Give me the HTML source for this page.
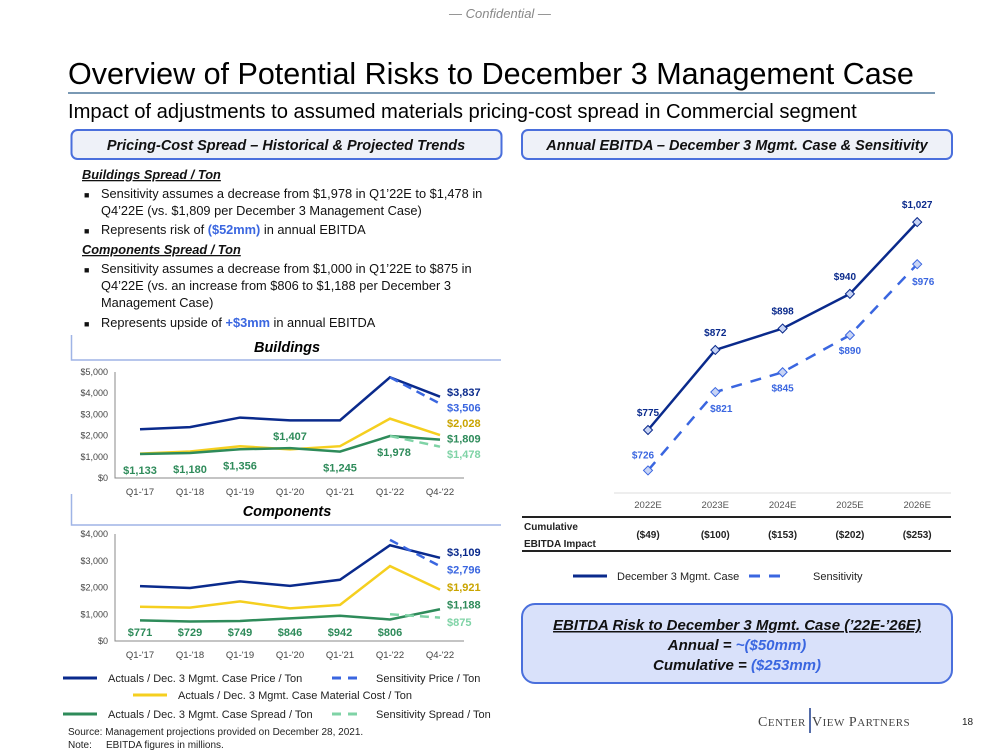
<!DOCTYPE html>
<html><head><meta charset="utf-8"><style>
html,body{margin:0;padding:0;background:#fff;}
svg{display:block;font-family:"Liberation Sans",sans-serif;}
</style></head><body>
<svg id="s" width="1000" height="750" viewBox="0 0 1000 750" xmlns="http://www.w3.org/2000/svg">
<text x="500" y="18" text-anchor="middle" font-size="13" font-style="italic" fill="#888">— Confidential —</text>
<text x="68" y="84" font-size="30.5" fill="#000">Overview of Potential Risks to December 3 Management Case</text>
<line x1="68" y1="93" x2="935" y2="93" stroke="#2a5c88" stroke-width="1.2"/>
<text x="68" y="118" font-size="20.2" fill="#000">Impact of adjustments to assumed materials pricing-cost spread in Commercial segment</text>

<rect x="71.5" y="130" width="430" height="29" rx="6" fill="#eef1f8" stroke="#4a6fdc" stroke-width="2"/>
<text x="286" y="150" text-anchor="middle" font-size="14.5" font-weight="bold" font-style="italic" fill="#111">Pricing-Cost Spread – Historical &amp; Projected Trends</text>
<rect x="522" y="130" width="430" height="29" rx="6" fill="#eef1f8" stroke="#4a6fdc" stroke-width="2"/>
<text x="737" y="150" text-anchor="middle" font-size="14.5" font-weight="bold" font-style="italic" fill="#111">Annual EBITDA – December 3 Mgmt. Case &amp; Sensitivity</text>

<g font-size="12.8" fill="#111">
<text x="82" y="179" font-weight="bold" font-style="italic" text-decoration="underline">Buildings Spread / Ton</text>
<text x="84" y="198" font-size="9">■</text><text x="101" y="198">Sensitivity assumes a decrease from $1,978 in Q1’22E to $1,478 in</text>
<text x="101" y="215">Q4’22E (vs. $1,809 per December 3 Management Case)</text>
<text x="84" y="234" font-size="9">■</text><text x="101" y="234">Represents risk of <tspan fill="#3a66e0" font-weight="bold">($52mm)</tspan> in annual EBITDA</text>
<text x="82" y="254" font-weight="bold" font-style="italic" text-decoration="underline">Components Spread / Ton</text>
<text x="84" y="273" font-size="9">■</text><text x="101" y="273">Sensitivity assumes a decrease from $1,000 in Q1’22E to $875 in</text>
<text x="101" y="290">Q4’22E (vs. an increase from $806 to $1,188 per December 3</text>
<text x="101" y="307">Management Case)</text>
<text x="84" y="327" font-size="9">■</text><text x="101" y="327">Represents upside of <tspan fill="#3a66e0" font-weight="bold">+$3mm</tspan> in annual EBITDA</text>
</g>

<path d="M71.5 335 V360 H501" fill="none" stroke="#9fb4e6" stroke-width="1.5"/>
<text x="287" y="352" text-anchor="middle" font-size="14.5" font-weight="bold" font-style="italic">Buildings</text>
<path d="M71.5 494 V525 H501" fill="none" stroke="#9fb4e6" stroke-width="1.5"/>
<text x="287" y="516" text-anchor="middle" font-size="14.5" font-weight="bold" font-style="italic">Components</text>

<g id="bchart"></g>
<g id="cchart"></g>
<g id="echart"></g>

<g font-size="11" fill="#222">
<line x1="63" y1="678" x2="97" y2="678" stroke="#0a2a8c" stroke-width="3"/><text x="108" y="682">Actuals / Dec. 3 Mgmt. Case Price / Ton</text>
<line x1="332" y1="678" x2="360" y2="678" stroke="#3a66e0" stroke-width="3" stroke-dasharray="9,7"/><text x="376" y="682">Sensitivity Price / Ton</text>
<line x1="133" y1="695" x2="167" y2="695" stroke="#f5cf1f" stroke-width="3"/><text x="178" y="699">Actuals / Dec. 3 Mgmt. Case Material Cost / Ton</text>
<line x1="63" y1="714" x2="97" y2="714" stroke="#2e8b5a" stroke-width="3"/><text x="108" y="718">Actuals / Dec. 3 Mgmt. Case Spread / Ton</text>
<line x1="332" y1="714" x2="360" y2="714" stroke="#7fd3a6" stroke-width="3" stroke-dasharray="9,7"/><text x="376" y="718">Sensitivity Spread / Ton</text>
</g>
<text x="68" y="735" font-size="10" fill="#222">Source: Management projections provided on December 28, 2021.</text>
<text x="68" y="748" font-size="10" fill="#222">Note:<tspan x="106">EBITDA figures in millions.</tspan></text>

<g font-size="11" fill="#222">
<line x1="573" y1="576" x2="607" y2="576" stroke="#0a2a8c" stroke-width="3"/><text x="617" y="580">December 3 Mgmt. Case</text>
<line x1="749" y1="576" x2="783" y2="576" stroke="#3a66e0" stroke-width="3" stroke-dasharray="11,9"/><text x="813" y="580">Sensitivity</text>
</g>

<rect x="522" y="604" width="430" height="79" rx="13" fill="#d9e1fa" stroke="#4a6fdc" stroke-width="2"/>
<g font-size="15" font-weight="bold" font-style="italic" text-anchor="middle" fill="#111">
<text x="737" y="630" text-decoration="underline">EBITDA Risk to December 3 Mgmt. Case (’22E-’26E)</text>
<text x="737" y="650">Annual = <tspan fill="#3a66e0">~($50mm)</tspan></text>
<text x="737" y="670">Cumulative = <tspan fill="#3a66e0">($253mm)</tspan></text>
</g>
<line x1="810" y1="708" x2="810" y2="733" stroke="#1a3a8c" stroke-width="1.5"/>
<text x="758" y="726" font-family="Liberation Serif,serif" font-size="14" fill="#444" letter-spacing="0.5">C<tspan font-size="11">ENTER</tspan><tspan x="812">V</tspan><tspan font-size="11">IEW</tspan> P<tspan font-size="11">ARTNERS</tspan></text>
<text x="962" y="725" font-size="10" fill="#222">18</text>
</svg>
<script>
const NS="http://www.w3.org/2000/svg";
// Buildings data
const quarters=["Q1-'17","Q1-'18","Q1-'19","Q1-'20","Q1-'21","Q1-'22","Q4-'22"];
const bPrice=[2300,2400,2850,2720,2720,4750,3837];
const bSensPrice=[4750,3506];
const bCost=[1150,1250,1500,1350,1500,2800,2028];
const bSpread=[1133,1180,1356,1407,1245,1978,1809];
const bSensSpread=[1978,1478];
const bTicks=[0,1000,2000,3000,4000,5000];
// Components data
const cPrice=[2050,1980,2230,2060,2290,3580,3109];
const cSensPrice=[3780,2796];
const cCost=[1280,1250,1480,1220,1350,2800,1921];
const cSpread=[771,729,749,846,942,806,1188];
const cSensSpread=[1000,875];
const cTicks=[0,1000,2000,3000,4000];
// EBITDA data
const years=["2022E","2023E","2024E","2025E","2026E"];
const mgmt=[775,872,898,940,1027];
const sens=[726,821,845,890,976];
const cumImpact=["($49)","($100)","($153)","($202)","($253)"];

const C={navy:"#0a2a8c",blue:"#3a66e0",yel:"#f5cf1f",grn:"#2e8b5a",lgrn:"#7fd3a6"};
function mk(tag,attrs,parent){const e=document.createElementNS(NS,tag);for(const k in attrs)e.setAttribute(k,attrs[k]);parent.appendChild(e);return e;}
function fmt(v){return "$"+v.toLocaleString("en-US");}

function lineChart(g,o){
  const x=i=>o.x0+i*o.dx;
  const y=v=>o.yb-(v/o.max)*o.h;
  const ax=mk("path",{d:`M${o.left} ${o.yb-o.h} V${o.yb} H${o.right}`,fill:"none",stroke:"#888","stroke-width":1},g);
  
  
  o.ticks.forEach(t=>{const tx=mk("text",{x:o.left-7,y:y(t)+3,"text-anchor":"end","font-size":9,fill:"#444"},g);tx.textContent=fmt(t);
    
    });
  quarters.forEach((q,i)=>{const tx=mk("text",{x:x(i),y:o.yb+17,"text-anchor":"middle","font-size":9.5,fill:"#444"},g);tx.textContent=q;
    
    });
  const draw=(arr,start,col,dash,name)=>{const p=mk("polyline",{points:arr.map((v,i)=>x(i+start)+","+y(v)).join(" "),fill:"none",stroke:col,"stroke-width":2.5,"stroke-dasharray":dash||"none"},g);
    
    };
  const n=quarters.length;
  draw(o.cost,0,C.yel,null,"cost-line");
  draw(o.spread,0,C.grn,null,"spread-line");
  draw(o.sensSpread,n-2,C.lgrn,"9,6","sensitivity-spread-line");
  draw(o.price,0,C.navy,null,"price-line");
  draw(o.sensPrice,n-2,C.blue,"9,6","sensitivity-price-line");
  for(let i=0;i<n-1;i++){
    const above=o.above[i];
    const ly=above?y(o.spread[i])-8:(o.fixedY||y(o.spread[i])+20);
    const tx=mk("text",{x:x(i)+(o.lshift[i]||0),y:ly,"text-anchor":"middle","font-size":11,"font-weight":"bold",fill:C.grn},g);tx.textContent=fmt(o.spread[i]);
    
    
  }
  const rx=x(n-1)+7;
  const rl=[[o.price[n-1],C.navy],[o.sensPrice[1],C.blue],[o.cost[n-1],"#c9a400"],[o.spread[n-1],C.grn],[o.sensSpread[1],C.lgrn]];
  rl.forEach((r,k)=>{const tx=mk("text",{x:rx,y:o.ry0+k*o.rdy,"font-size":11,"font-weight":"bold",fill:r[1]},g);tx.textContent=fmt(r[0]);
    
    });
}
lineChart(document.getElementById("bchart"),{x0:140,dx:50,yb:478,h:106,max:5000,left:115,right:464,ticks:bTicks,
  price:bPrice,sensPrice:bSensPrice,cost:bCost,spread:bSpread,sensSpread:bSensSpread,
  above:[false,false,false,true,false,false],lshift:[0,0,0,0,0,4],ry0:396,rdy:15.5});
lineChart(document.getElementById("cchart"),{x0:140,dx:50,yb:641,h:107,max:4000,left:115,right:464,ticks:cTicks,
  price:cPrice,sensPrice:cSensPrice,cost:cCost,spread:cSpread,sensSpread:cSensSpread,
  above:[false,false,false,false,false,false],lshift:[],fixedY:636,ry0:556,rdy:17.5});

(function(){
  const g=document.getElementById("echart");
  const x=i=>648+i*67.3;
  const y=v=>430-(v-775)*0.825;
  const base=mk("line",{x1:614,y1:493,x2:951,y2:493,stroke:"#ddd","stroke-width":1},g);
  
  
  years.forEach((yr,i)=>{const t=mk("text",{x:x(i),y:508,"text-anchor":"middle","font-size":9.5,fill:"#555"},g);t.textContent=yr;
    
    
    const c=mk("text",{x:x(i),y:538,"text-anchor":"middle","font-size":10,"font-weight":"bold",fill:"#222"},g);c.textContent=cumImpact[i];
    
    });
  const t1=mk("line",{x1:522,y1:517,x2:951,y2:517,stroke:"#222","stroke-width":2},g);
  
  
  const t2=mk("line",{x1:522,y1:551,x2:951,y2:551,stroke:"#222","stroke-width":2},g);
  
  
  const l1=mk("text",{x:524,y:530,"font-size":10,"font-weight":"bold",fill:"#222"},g);l1.textContent="Cumulative";
  
  
  const l2=mk("text",{x:524,y:547,"font-size":10,"font-weight":"bold",fill:"#222"},g);l2.textContent="EBITDA Impact";
  
  
  const sp=mk("polyline",{points:sens.map((v,i)=>x(i)+","+y(v)).join(" "),fill:"none",stroke:C.blue,"stroke-width":2.5,"stroke-dasharray":"11,9"},g);
  
  
  const mp=mk("polyline",{points:mgmt.map((v,i)=>x(i)+","+y(v)).join(" "),fill:"none",stroke:C.navy,"stroke-width":2.5},g);
  
  
  const dm=(cx,cy,col)=>mk("path",{d:`M${cx} ${cy-4.5} L${cx+4.5} ${cy} L${cx} ${cy+4.5} L${cx-4.5} ${cy} Z`,fill:"#c8d4f5",stroke:col,"stroke-width":1},g);
  mgmt.forEach((v,i)=>{const d=dm(x(i),y(v),C.navy);
    
    
    const t=mk("text",{x:x(i)-(i==3?5:0),y:y(v)-14,"text-anchor":"middle","font-size":10,"font-weight":"bold",fill:C.navy},g);t.textContent=fmt(v);
    
    });
  const sOff=[-12,20,19,19,21];
  const sDx=[-5,6,0,0,6];
  sens.forEach((v,i)=>{const d=dm(x(i),y(v),C.blue);
    
    
    const t=mk("text",{x:x(i)+sDx[i],y:y(v)+sOff[i],"text-anchor":"middle","font-size":10,"font-weight":"bold",fill:C.blue},g);t.textContent=fmt(v);
    
    });
})();
</script>
</body></html>
